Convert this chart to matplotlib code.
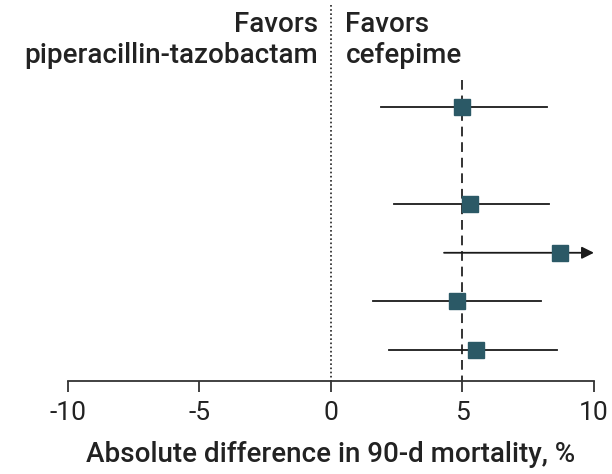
import numpy as np
import matplotlib
matplotlib.use("Agg")
import matplotlib.pyplot as plt

plt.rcParams['font.family'] = ['Roboto', 'DejaVu Sans']

# absolute difference in 90-d mortality (%) with 95% CI, top to bottom
row_pos = [0, 2, 3, 4, 5]
diff = [5.0, 5.3, 8.7, 4.8, 5.5]
ci_low = [1.9, 2.4, 4.3, 1.6, 2.2]
ci_high = [8.2, 8.3, 11.5, 8.0, 8.6]
ref_line = 5.0

xticks = [-10, -5, 0, 5, 10]
xmin, xmax = -10, 10

fig = plt.figure(figsize=(6.12, 4.74), dpi=100)
ax = fig.add_axes([0.111, 0.196, 0.8595, 0.804])

square_color = '#2b5966'

for y, d, lo, hi in zip(row_pos, diff, ci_low, ci_high):
    if hi > xmax:
        ax.annotate('', xy=(xmax, y), xytext=(lo, y),
                    arrowprops=dict(arrowstyle='-|>', color='#1a1a1a', lw=1.3,
                                    mutation_scale=18, shrinkA=0, shrinkB=0),
                    zorder=2)
    else:
        ax.plot([lo, hi], [y, y], color='#1a1a1a', lw=1.3, zorder=2)
    ax.plot(d, y, marker='s', markersize=11, color=square_color, zorder=3)

ax.plot([0, 0], [-2.1, 5.64], color='#222222', lw=1.2, ls=(0, (1, 1.5)),
        zorder=1)
ax.plot([ref_line, ref_line], [-0.55, 5.64], color='#333333', lw=1.4,
        ls=(0, (5, 3)), zorder=1)

ax.set_xlim(xmin, xmax)
ax.set_ylim(5.64, -2.2)
for s in ['top', 'left', 'right']:
    ax.spines[s].set_visible(False)
ax.spines['bottom'].set_linewidth(1.3)
ax.spines['bottom'].set_color('#333333')
ax.set_yticks([])
ax.set_xticks(xticks)
ax.set_xticklabels([str(t) for t in xticks])
ax.tick_params(axis='x', length=8, width=1.3, color='#333333',
               labelsize=19, pad=6, labelcolor='#222222')
ax.set_xlabel('Absolute difference in 90-d mortality, %', fontsize=20,
              labelpad=12, color='#222222', fontweight='medium')

header = dict(fontsize=20, linespacing=1.2, color='#222222',
              fontweight='medium', va='top')
ax.text(-0.5, -1.97, 'Favors\npiperacillin-tazobactam', ha='right', **header)
ax.text(0.55, -1.97, 'Favors\ncefepime', ha='left', **header)

fig.savefig('out.png', dpi=100)
